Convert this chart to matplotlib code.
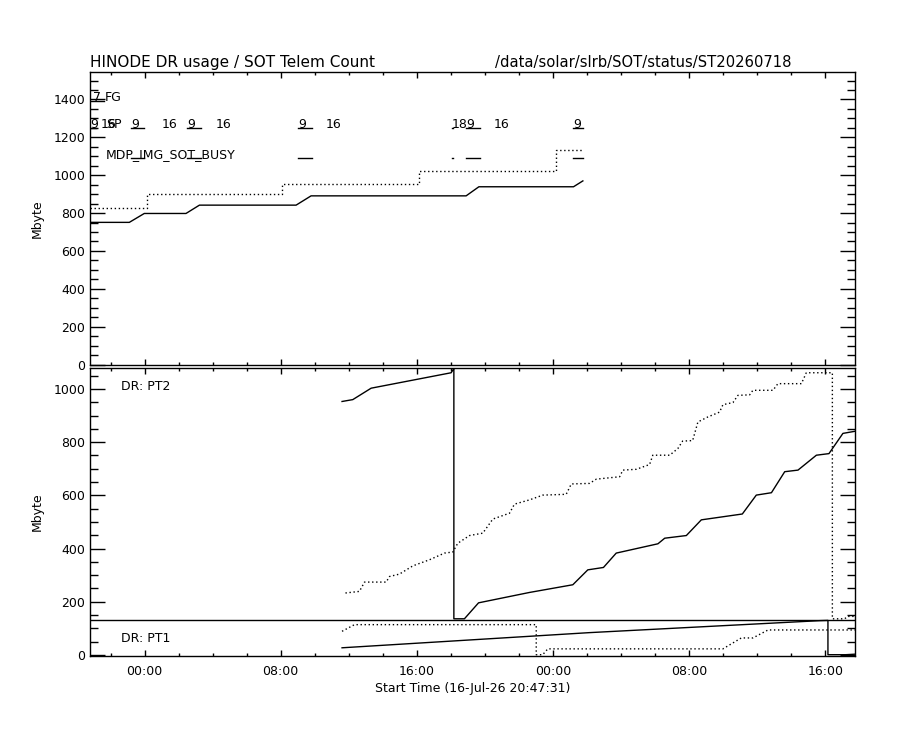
import matplotlib
matplotlib.use('Agg')
import matplotlib.pyplot as plt
from matplotlib.ticker import FixedLocator, MultipleLocator

plt.rcParams['font.family'] = ['DejaVu Sans']

# ---------------- text ----------------
title = "HINODE DR usage / SOT Telem Count"
path_label = "/data/solar/slrb/SOT/status/ST20260718"
xlabel = "Start Time (16-Jul-26 20:47:31)"
ylabel = "Mbyte"

# x axis: hours after start time 16-Jul-26 20:47:31
x_range = [0.0, 44.95]
x_major_ticks = [3.208, 11.208, 19.208, 27.208, 35.208, 43.208]
x_minor_ticks = [1.208, 5.208, 7.208, 9.208, 13.208, 15.208, 17.208, 21.208,
                 23.208, 25.208, 29.208, 31.208, 33.208, 37.208, 39.208, 41.208]
x_tick_labels = ['00:00', '08:00', '16:00', '00:00', '08:00', '16:00']

# ---------------- top panel: DR usage / SOT telemetry ----------------
top_solid_t = [0.0, 2.31, 3.19, 5.64, 6.43, 12.11, 12.99, 22.10, 22.85, 28.41, 28.96]
top_solid_v = [751, 751, 798, 798, 842, 842, 891, 891, 939, 939, 970]
top_dot_t = [0.0, 3.37, 3.37, 11.30, 11.30, 19.33, 19.33, 27.36, 27.36, 28.96]
top_dot_v = [826, 826, 899, 899, 953, 953, 1022, 1022, 1132, 1132]

# observation-program annotations
fg_labels = ['7']
fg_start = [0.0]
fg_end = [0.85]
fg_text_t = [0.2]

sp_labels = ['9', '16', '9', '16', '9', '16', '9', '16', '18', '9', '16', '9']
sp_start = [0.0, 0.61, 2.41, 4.19, 5.72, 7.37, 12.22, 13.86, 21.26, 22.10, 23.71, 28.37]
sp_end = [0.35, 0.61, 3.19, 4.19, 6.51, 7.37, 13.03, 13.86, 21.32, 22.89, 23.71, 28.96]

busy_start = [2.41, 5.72, 12.22, 21.26, 22.10, 28.37]
busy_end = [3.19, 6.51, 13.03, 21.32, 22.89, 28.96]

row_names = ['FG', 'SP', 'MDP_IMG_SOT_BUSY']
row_levels = [1393, 1247, 1089]
row_name_t = [0.85, 0.95, 0.9]

# ---------------- bottom panel: DR partitions ----------------
pt2_solid_t = [14.81, 15.44, 16.52, 21.22, 21.33, 21.38, 21.38, 22.00, 22.83, 25.82,
               28.37, 29.25, 30.17, 30.92, 33.37, 33.77, 35.04, 35.92, 38.33, 39.15,
               40.04, 40.82, 41.60, 42.68, 43.42, 44.24, 44.95]
pt2_solid_v = [953, 960, 1003, 1061, 1072, 1076, 136, 136, 196, 235,
               264, 320, 329, 383, 418, 439, 449, 508, 530, 601,
               610, 689, 695, 751, 757, 833, 841]

pt2_dot_t = [15.01, 15.83, 16.13, 17.40, 17.60, 18.18, 18.97, 19.95, 20.83, 21.32,
             21.61, 22.30, 23.08, 23.67, 24.65, 24.94, 25.82, 26.61, 27.98, 28.28,
             29.35, 29.75, 31.12, 31.31, 32.10, 32.88, 33.07, 34.06, 34.54, 34.82,
             35.41, 35.72, 36.31, 36.99, 37.19, 37.78, 38.07, 38.76, 38.95, 40.13,
             40.42, 41.80, 42.09, 43.62, 43.62, 44.34, 44.52, 44.95]
pt2_dot_v = [233, 239, 274, 274, 295, 304, 335, 358, 383, 387,
             420, 449, 458, 511, 533, 567, 583, 601, 604, 643,
             645, 661, 670, 695, 698, 716, 751, 751, 776, 804,
             806, 876, 895, 913, 941, 949, 976, 978, 995, 995,
             1020, 1020, 1061, 1061, 136, 136, 145, 145]

pt1_solid_t = [14.81, 29.35, 42.87, 43.36, 43.36, 44.40, 44.95]
pt1_solid_v = [27, 84, 129, 130, 1, 1, 3]

pt1_dot_t = [14.81, 15.54, 26.22, 26.22, 26.60, 26.90, 37.19, 38.27, 38.95, 39.84, 44.95]
pt1_dot_v = [89, 114, 114, 1, 1, 23, 23, 64, 64, 94, 94]

pt1_limit = 133
panel_names = ['DR: PT2', 'DR: PT1']
panel_name_v = [995, 48]
panel_name_t = 1.84

# ---------------- figure ----------------
fig = plt.figure(figsize=(9, 7.3), dpi=100)
ax1 = fig.add_axes([0.1, 0.50055, 0.85, 0.40082])
ax2 = fig.add_axes([0.1, 0.10205, 0.85, 0.39316])

lw = 1.0
dotted = (0, (1.0, 1.9))

# top panel
ax1.plot(top_solid_t, top_solid_v, color='black', lw=lw)
ax1.plot(top_dot_t, top_dot_v, color='black', lw=lw, linestyle=dotted)

fs_small = 9
for lab, s, e, tx in zip(fg_labels, fg_start, fg_end, fg_text_t):
    ax1.plot([s, e], [row_levels[0], row_levels[0]], color='black', lw=lw)
    ax1.text(tx, row_levels[0], lab, fontsize=fs_small, va='baseline', ha='left')
for lab, s, e in zip(sp_labels, sp_start, sp_end):
    if e > s:
        ax1.plot([s, e], [row_levels[1], row_levels[1]], color='black', lw=lw)
    ax1.text(s, row_levels[1], lab, fontsize=fs_small, va='baseline', ha='left')
for s, e in zip(busy_start, busy_end):
    ax1.plot([s, e], [row_levels[2], row_levels[2]], color='black', lw=lw)
for name, lev, tx in zip(row_names, row_levels, row_name_t):
    ax1.text(tx, lev, name, fontsize=fs_small, va='baseline', ha='left')

ax1.set_xlim(x_range)
ax1.set_ylim(0, 1545)
ax1.yaxis.set_major_locator(MultipleLocator(200))
ax1.yaxis.set_minor_locator(MultipleLocator(50))

# bottom panel
ax2.plot(pt2_solid_t, pt2_solid_v, color='black', lw=lw)
ax2.plot(pt2_dot_t, pt2_dot_v, color='black', lw=lw, linestyle=dotted)
ax2.plot(pt1_solid_t, pt1_solid_v, color='black', lw=lw)
ax2.plot(pt1_dot_t, pt1_dot_v, color='black', lw=lw, linestyle=dotted)
ax2.axhline(pt1_limit, color='black', lw=lw)
for name, v in zip(panel_names, panel_name_v):
    ax2.text(panel_name_t, v, name, fontsize=fs_small, va='baseline', ha='left')

ax2.set_xlim(x_range)
ax2.set_ylim(-2, 1077)
ax2.yaxis.set_major_locator(MultipleLocator(200))
ax2.yaxis.set_minor_locator(MultipleLocator(50))

for ax in (ax1, ax2):
    ax.xaxis.set_major_locator(FixedLocator(x_major_ticks))
    ax.xaxis.set_minor_locator(FixedLocator(x_minor_ticks))
    ax.tick_params(which='both', direction='in', top=True, right=True,
                   labelsize=fs_small, width=1.0, color='black')
    ax.tick_params(axis='x', which='major', length=4.5, pad=7)
    ax.tick_params(axis='x', which='minor', length=2.5)
    ax.tick_params(axis='y', which='major', length=10.8, pad=3.5)
    ax.tick_params(axis='y', which='minor', length=5.8)
    for sp in ax.spines.values():
        sp.set_linewidth(1.0)
    ax.set_ylabel(ylabel, fontsize=fs_small, labelpad=7)

ax1.set_xticklabels([])
ax2.set_xticklabels(x_tick_labels)
ax2.set_xlabel(xlabel, fontsize=fs_small, labelpad=3)

fig.text(0.1, 1 - 66.5 / 730, title, fontsize=11, va='baseline', ha='left')
fig.text(495 / 900, 1 - 66.5 / 730, path_label, fontsize=10.6, va='baseline', ha='left')

fig.savefig('out.png', dpi=100)
